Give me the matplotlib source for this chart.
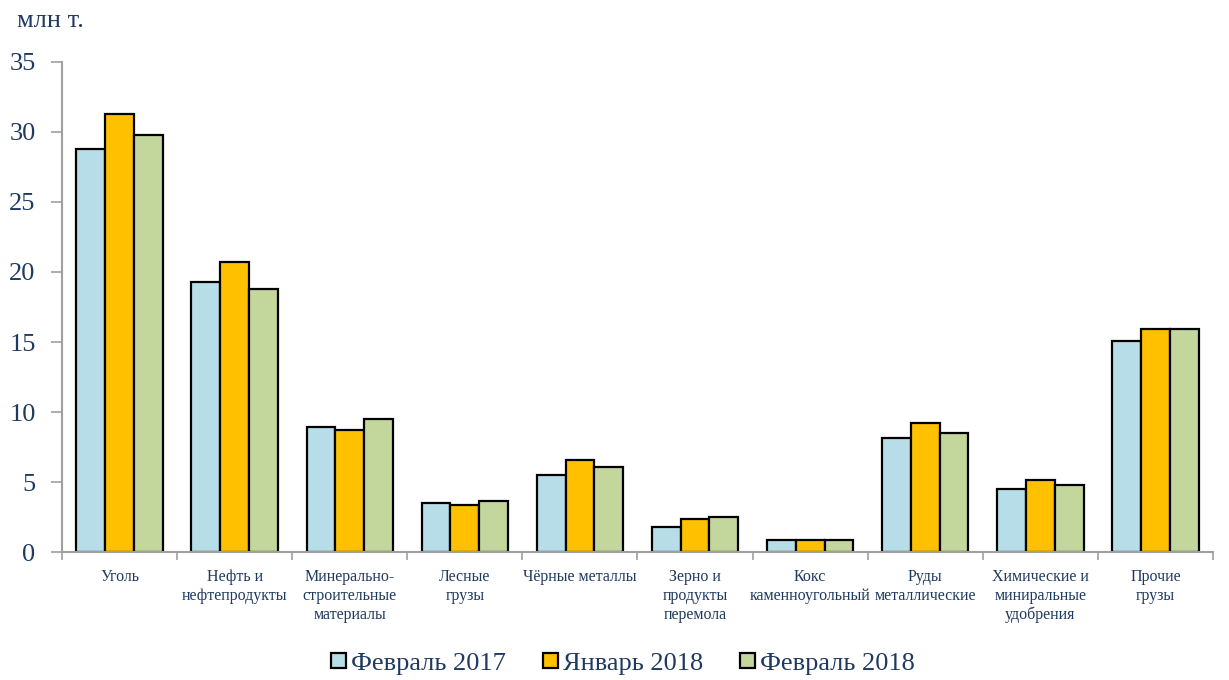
import matplotlib.pyplot as plt
import numpy as np

# Data
categories = ['Уголь', 'Нефть и\nнефтепродукты', 'Минерально-\nстроительные\nматериалы',
              'Лесные\nгрузы', 'Чёрные металлы', 'Зерно и\nпродукты\nперемола',
              'Кокс\nкаменноугольный', 'Руды\nметаллические',
              'Химические и\nминиральные\nудобрения', 'Прочие\nгрузы']
feb_2017 = [28.8, 19.3, 8.9, 3.5, 5.5, 1.8, 0.86, 8.15, 4.5, 15.1]
jan_2018 = [31.3, 20.7, 8.75, 3.4, 6.55, 2.35, 0.88, 9.2, 5.15, 15.9]
feb_2018 = [29.8, 18.8, 9.5, 3.65, 6.05, 2.5, 0.86, 8.5, 4.8, 15.95]
series_names = ['Февраль 2017', 'Январь 2018', 'Февраль 2018']
colors = ['#B7DEE8', '#FFC000', '#C3D69B']

text_color = '#1F3A60'
axis_color = '#A0A0A0'

plt.rcParams['font.family'] = ['Liberation Serif', 'DejaVu Serif']

fig = plt.figure(figsize=(12.29, 6.80), dpi=100)
ax = fig.add_axes([0.0504, 0.188, 0.9366, 0.721])

x = np.arange(len(categories))
width = 0.25
for i, (vals, name, c) in enumerate(zip([feb_2017, jan_2018, feb_2018], series_names, colors)):
    ax.bar(x + (i - 1) * width, vals, width, color=c, edgecolor='black',
           linewidth=1.6, label=name)

ax.set_xlim(-0.5, len(categories) - 0.5)
ax.set_ylim(0, 35)
ax.set_yticks(range(0, 36, 5))
ax.tick_params(axis='y', labelsize=19, colors=axis_color, labelcolor=text_color,
               length=8, width=1.2, pad=11)

# category boundaries as major ticks, labels on minor ticks
ax.set_xticks(np.arange(-0.5, len(categories), 1))
ax.set_xticklabels([])
ax.set_xticks(x, minor=True)
ax.set_xticklabels(categories, minor=True, fontsize=11.5, color=text_color,
                   linespacing=1.25)
ax.tick_params(axis='x', which='major', colors=axis_color, length=6, width=1.2)
ax.tick_params(axis='x', which='minor', length=0, pad=12)

for s in ['top', 'right']:
    ax.spines[s].set_visible(False)
for s in ['left', 'bottom']:
    ax.spines[s].set_color(axis_color)
    ax.spines[s].set_linewidth(1.5)

fig.text(0.014, 0.969, 'млн т.', fontsize=19, color=text_color, ha='left', va='center')

leg = fig.legend(loc='center', bbox_to_anchor=(0.507, 0.024), ncol=3, frameon=False,
                 fontsize=19, handlelength=0.55, handleheight=0.55, handletextpad=0.2,
                 columnspacing=1.4)
for t in leg.get_texts():
    t.set_color(text_color)

plt.savefig('out.png', dpi=100)
